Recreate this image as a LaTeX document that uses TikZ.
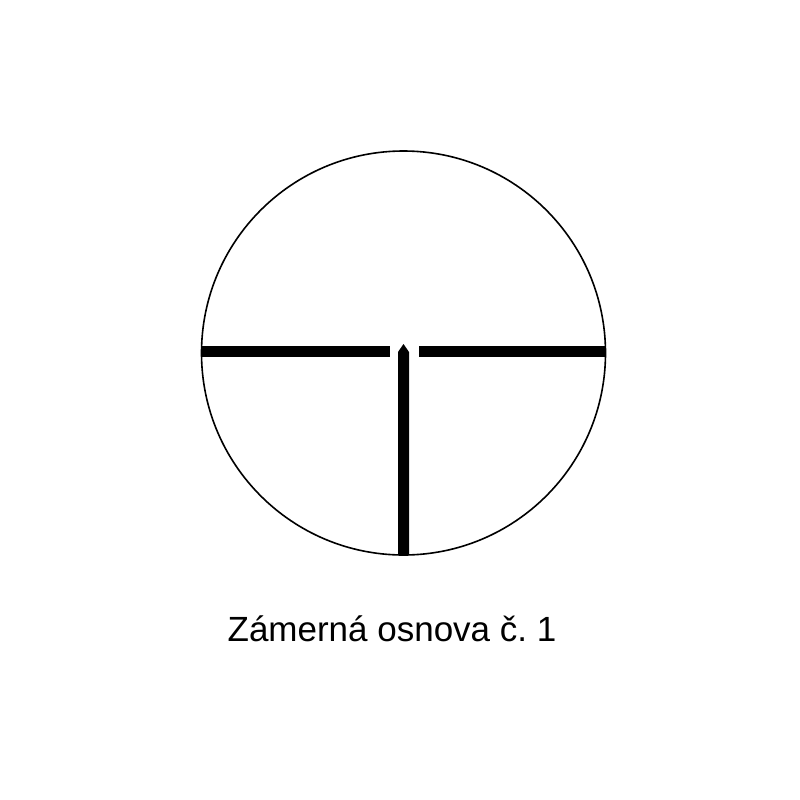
\documentclass[tikz,border=0pt]{standalone}
\usepackage{fontspec}
\setmainfont{Liberation Sans}
\frenchspacing
\begin{document}
\begin{tikzpicture}[x=1pt,y=-1pt,
  bar/.style={fill=black,draw=none},
  ring/.style={draw=black,line width=1.6pt},
  caption/.style={font=\fontsize{35}{40}\selectfont,anchor=base,inner sep=0pt}]
\useasboundingbox[fill=white] (0,0) rectangle (800,800);
\node[circle,minimum size=404pt,inner sep=0pt,ring] (c) at (403.5,353) {};
\fill[bar] (201.5,346) rectangle (390,357);
\fill[bar] (419,346) rectangle (605,357);
\fill[bar] (398,555) -- (398,352) -- (403.5,344) -- (409,352) -- (409,555) -- cycle;
\node[caption] (t) at (392,641) {Zámerná osnova č.\ 1};
\end{tikzpicture}
\end{document}
